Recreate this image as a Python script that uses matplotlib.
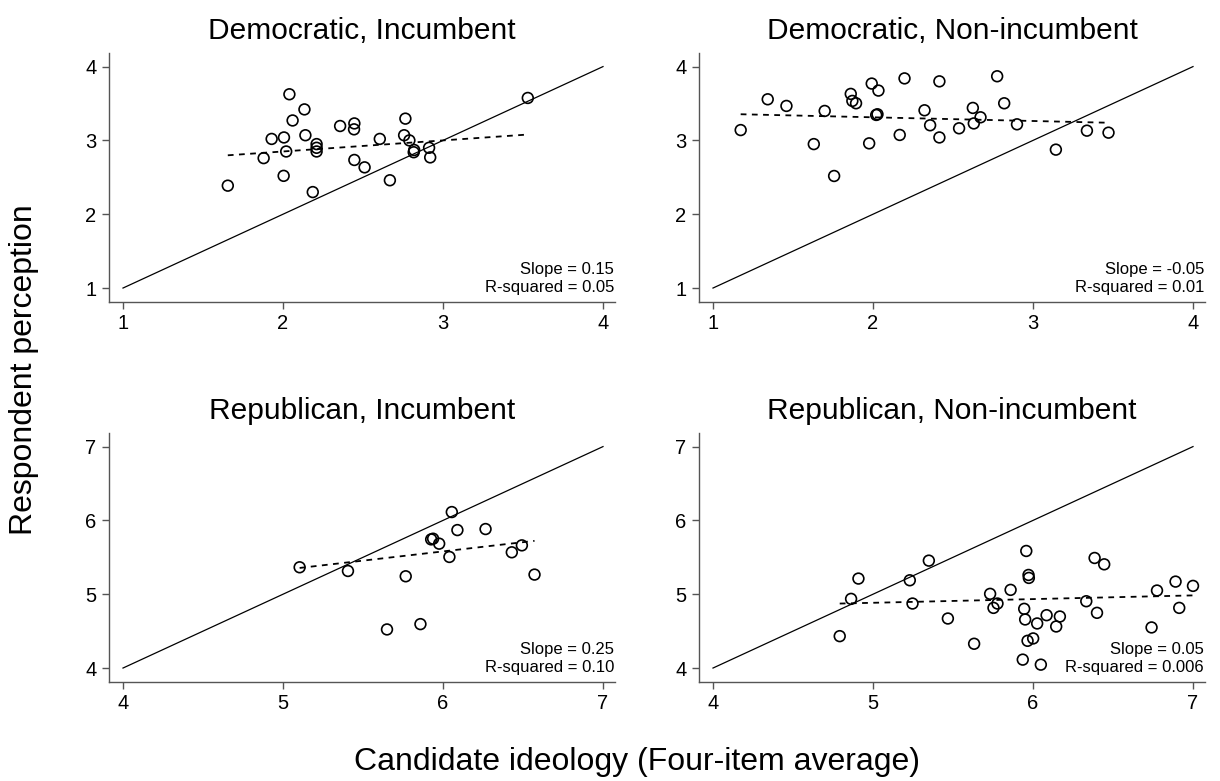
"""Candidate ideology vs respondent perception, four panels (party x incumbency)."""

import matplotlib
matplotlib.use("Agg")
import matplotlib.pyplot as plt
import numpy as np

plt.rcParams["font.family"] = ["Liberation Sans", "DejaVu Sans"]

# --- Democratic, Incumbent ---
dem_inc_x = [1.655, 2.04, 2.134, 2.06, 1.929, 2.006, 2.14, 1.879, 2.02, 2.21,
             2.21, 2.21, 2.004, 2.186, 2.357, 2.446, 2.444, 2.446, 2.51, 2.605,
             2.668, 2.765, 2.757, 2.79, 2.82, 2.817, 2.913, 2.92, 3.53]
dem_inc_y = [2.387, 3.625, 3.42, 3.27, 3.02, 3.04, 3.07, 2.76, 2.85, 2.95,
             2.90, 2.85, 2.52, 2.30, 3.195, 3.23, 3.15, 2.735, 2.635, 3.02,
             2.46, 3.295, 3.07, 3.0, 2.87, 2.84, 2.90, 2.77, 3.575]

# --- Democratic, Non-incumbent ---
dem_non_x = [1.173, 1.342, 1.459, 1.63, 1.698, 1.757, 1.861, 1.871, 1.894, 1.976,
             1.992, 2.034, 2.02, 2.028, 2.167, 2.197, 2.322, 2.357, 2.415, 2.415,
             2.538, 2.624, 2.63, 2.672, 2.776, 2.82, 2.90, 3.143, 3.337, 3.472]
dem_non_y = [3.14, 3.557, 3.467, 2.95, 3.399, 2.518, 3.63, 3.535, 3.503, 2.96,
             3.77, 3.675, 3.345, 3.354, 3.074, 3.84, 3.408, 3.205, 3.80, 3.04,
             3.164, 3.44, 3.23, 3.313, 3.869, 3.503, 3.218, 2.875, 3.132, 3.105]

# --- Republican, Incumbent ---
rep_inc_x = [5.104, 5.406, 5.767, 5.65, 5.859, 5.926, 5.938, 5.976, 6.055, 6.09,
             6.04, 6.266, 6.43, 6.493, 6.572]
rep_inc_y = [5.365, 5.315, 5.243, 4.523, 4.595, 5.743, 5.752, 5.685, 6.113, 5.869,
             5.505, 5.883, 5.568, 5.662, 5.266]

# --- Republican, Non-incumbent ---
rep_non_x = [4.792, 4.863, 4.909, 5.23, 5.247, 5.349, 5.468, 5.632, 5.732, 5.753,
             5.778, 5.86, 5.958, 5.972, 5.974, 5.945, 5.951, 5.966, 6.001, 6.026,
             6.085, 6.145, 6.168, 5.936, 6.049, 6.333, 6.385, 6.445, 6.4, 6.741,
             6.775, 6.891, 6.914, 7.0]
rep_non_y = [4.432, 4.937, 5.212, 5.189, 4.874, 5.455, 4.671, 4.329, 5.005, 4.815,
             4.874, 5.059, 5.586, 5.261, 5.221, 4.802, 4.658, 4.369, 4.401, 4.604,
             4.716, 4.563, 4.698, 4.114, 4.046, 4.905, 5.491, 5.405, 4.748, 4.55,
             5.05, 5.171, 4.815, 5.113]

titles = ["Democratic, Incumbent", "Democratic, Non-incumbent",
          "Republican, Incumbent", "Republican, Non-incumbent"]
fit_slopes = [0.15, -0.05, 0.25, 0.05]
fit_intercepts = [2.55, 3.413, 4.08, 4.634]
slope_labels = ["0.15", "-0.05", "0.25", "0.05"]
rsq_labels = ["0.05", "0.01", "0.10", "0.006"]
axis_ranges = [(1, 4), (1, 4), (4, 7), (4, 7)]

panels = [(dem_inc_x, dem_inc_y), (dem_non_x, dem_non_y),
          (rep_inc_x, rep_inc_y), (rep_non_x, rep_non_y)]

W, H = 1220, 781
fig = plt.figure(figsize=(W / 100, H / 100), dpi=100)

# axes boxes in pixels: left, top (width/height shared)
ax_w, ax_h = 506, 248.4
boxes = [(109, 53.3), (699, 53.3), (109, 433.3), (699, 433.3)]

axis_col = "#555555"
for i, (left, top) in enumerate(boxes):
    ax = fig.add_axes([left / W, (H - top - ax_h) / H, ax_w / W, ax_h / H])
    x, y = panels[i]
    lo, hi = axis_ranges[i]

    # 45-degree reference line
    ax.plot([lo, hi], [lo, hi], color="black", lw=0.9, zorder=2)

    # fitted line across the observed range
    xs = np.array([min(x), max(x)])
    ax.plot(xs, fit_intercepts[i] + fit_slopes[i] * xs, color="black", lw=1.3,
            dashes=(3.2, 3.0), zorder=3)

    ax.scatter(x, y, s=60, facecolors="none", edgecolors="black",
               linewidths=1.2, zorder=4)

    ax.set_xlim(lo - 14 / 160, hi + 12 / 160)
    ax.set_ylim(lo - 0.185, hi + 0.18)
    ax.set_xticks(range(lo, hi + 1))
    ax.set_yticks(range(lo, hi + 1))

    for side in ("top", "right"):
        ax.spines[side].set_visible(False)
    for side in ("left", "bottom"):
        ax.spines[side].set_color(axis_col)
        ax.spines[side].set_linewidth(1.0)
    ax.tick_params(axis="both", direction="out", length=5, width=1.0,
                   color=axis_col, labelsize=14.5)
    ax.tick_params(axis="x", pad=4)
    ax.tick_params(axis="y", pad=4)

    ax.set_title(titles[i], fontsize=21.5, pad=10)

    ax.text(0.998, 0.128, f"Slope = {slope_labels[i]}", transform=ax.transAxes,
            ha="right", va="center", fontsize=12)
    ax.text(0.998, 0.058, f"R-squared = {rsq_labels[i]}", transform=ax.transAxes,
            ha="right", va="center", fontsize=12)

fig.text(637 / W, (H - 762) / H, "Candidate ideology (Four-item average)",
         ha="center", va="center", fontsize=23)
fig.text(24 / W, (H - 370) / H, "Respondent perception", rotation=90,
         ha="center", va="center", fontsize=23)

fig.savefig("out.png", dpi=100)
